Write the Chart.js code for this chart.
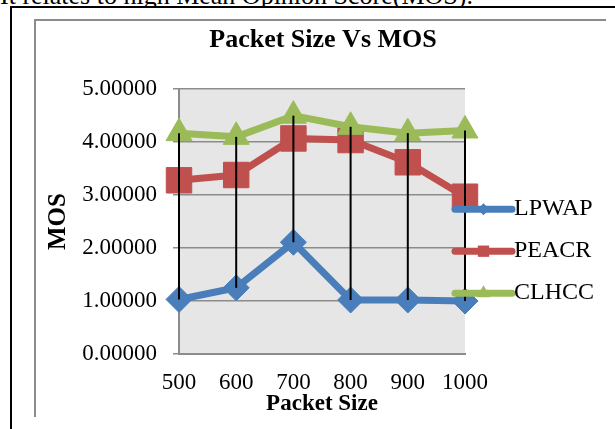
<!DOCTYPE html>
<html>
<head>
<meta charset="utf-8">
<script src="https://cdn.jsdelivr.net/npm/chart.js@4.4.0/dist/chart.umd.min.js"></script>
<style>
  body { margin: 0; background: #fff; width: 615px; height: 429px; overflow: hidden; position: relative; font-family: 'Liberation Serif', serif; }
  #intro { position: absolute; left: 0; top: 0; width: 615px; height: 6px; overflow: hidden; }
  #intro span { position: absolute; left: 0; top: -17px; font-size: 26px; line-height: 26px; white-space: nowrap; color: #000; }
  .rule { position: absolute; }
  #cell-top { left: 10px; top: 6px; width: 605px; height: 2px; background: #000; }
  #cell-left { left: 10px; top: 6px; width: 2px; height: 423px; background: #000; }
  #frame-top { left: 34px; top: 19px; width: 572px; height: 2px; background: #8c8c8c; }
  #frame-left { left: 34px; top: 19px; width: 2px; height: 398px; background: #8c8c8c; }
  #wrap { position: absolute; left: 40px; top: 20px; width: 566px; height: 409px; }
</style>
</head>
<body>
<div id="intro"><span>It relates to high Mean Opinion Score(MOS).</span></div>
<div class="rule" id="cell-top"></div>
<div class="rule" id="cell-left"></div>
<div class="rule" id="frame-top"></div>
<div class="rule" id="frame-left"></div>
<div id="wrap"><canvas id="mos-chart" width="566" height="409"></canvas></div>

<script>
const packetSizes = ['500', '600', '700', '800', '900', '1000'];
const lpwap = [1.03, 1.25, 2.11, 1.02, 1.02, 1.00];
const peacr = [3.28, 3.38, 4.07, 4.04, 3.62, 2.97];
const clhcc = [4.17, 4.10, 4.50, 4.29, 4.17, 4.22];

const serif = 'Liberation Serif';
const gridGray = '#8c8c8c';

// grey plot area like the Excel chart
const plotBackground = {
    id: 'plotBackground',
    beforeDraw(chart) {
        const { ctx, chartArea: a } = chart;
        ctx.save();
        ctx.fillStyle = '#e6e6e6';
        ctx.fillRect(a.left, a.top, a.right - a.left, a.bottom - a.top);
        ctx.restore();
    }
};

// high-low lines between the top and bottom series at each packet size
const highLowLines = {
    id: 'highLowLines',
    afterDatasetsDraw(chart) {
        const { ctx, scales } = chart;
        ctx.save();
        ctx.strokeStyle = '#000';
        ctx.lineWidth = 2;
        packetSizes.forEach((label, i) => {
            const vals = chart.data.datasets.map(ds => ds.data[i]);
            const x = scales.x.getPixelForValue(i);
            ctx.beginPath();
            ctx.moveTo(x, scales.y.getPixelForValue(Math.max(...vals)));
            ctx.lineTo(x, scales.y.getPixelForValue(Math.min(...vals)));
            ctx.stroke();
        });
        ctx.restore();
    }
};

// legend with a line sample and marker, Excel style
const lineLegend = {
    id: 'lineLegend',
    afterDraw(chart) {
        const { ctx, chartArea: a } = chart;
        ctx.save();
        chart.data.datasets.forEach((ds, i) => {
            const y = a.top + 120 + i * 42;
            const x0 = a.right - 10;
            const x1 = a.right + 47;
            ctx.strokeStyle = ds.borderColor;
            ctx.lineWidth = 7;
            ctx.lineCap = 'round';
            ctx.beginPath();
            ctx.moveTo(x0, y);
            ctx.lineTo(x1, y);
            ctx.stroke();
            ctx.fillStyle = ds.borderColor;
            Chart.helpers.drawPoint(ctx, {
                pointStyle: ds.pointStyle,
                radius: ds.legendRadius,
                borderWidth: 0
            }, (x0 + x1) / 2, y);
            ctx.fillStyle = '#000';
            ctx.font = '24px ' + serif;
            ctx.textBaseline = 'middle';
            ctx.textAlign = 'left';
            ctx.fillText(ds.label, x1 + 2, y);
        });
        ctx.restore();
    }
};

function series(label, data, color, style, radius, legendRadius, order) {
    return {
        label: label,
        data: data,
        borderColor: color,
        backgroundColor: color,
        borderWidth: 7,
        borderJoinStyle: 'round',
        borderCapStyle: 'round',
        tension: 0,
        pointStyle: style,
        pointRadius: radius,
        pointHoverRadius: radius,
        pointBackgroundColor: color,
        pointBorderColor: color,
        pointBorderWidth: 1,
        legendRadius: legendRadius,
        order: order
    };
}

new Chart(document.getElementById('mos-chart'), {
    type: 'line',
    data: {
        labels: packetSizes,
        datasets: [
            series('LPWAP', lpwap, '#4a7ebb', 'rectRot', 13, 6, 2),
            series('PEACR', peacr, '#c0504d', 'rect', 18, 8, 1),
            series('CLHCC', clhcc, '#9bbb59', 'triangle', 15, 8, 0)
        ]
    },
    options: {
        responsive: false,
        animation: false,
        devicePixelRatio: 1,
        layout: { padding: 0 },
        plugins: {
            legend: { display: false },
            tooltip: { enabled: false },
            title: {
                display: true,
                text: 'Packet Size Vs MOS',
                color: '#000',
                font: { family: serif, size: 26, weight: 'bold' },
                padding: { top: 5, bottom: 33 }
            }
        },
        scales: {
            x: {
                offset: false,
                afterFit: s => { s.height = 75; },
                grid: { display: false, drawTicks: false },
                border: { display: true, color: gridGray, width: 2 },
                ticks: {
                    color: '#000',
                    padding: 15,
                    font: { family: serif, size: 23 }
                },
                title: {
                    display: true,
                    text: 'Packet Size',
                    color: '#000',
                    font: { family: serif, size: 23, weight: 'bold' },
                    padding: { top: 0, bottom: 11 }
                }
            },
            y: {
                min: 0,
                max: 5,
                afterFit: s => { s.width = 139; },
                grid: { color: gridGray, lineWidth: 1.5, tickLength: 6 },
                border: { display: true, color: gridGray, width: 2 },
                ticks: {
                    stepSize: 1,
                    color: '#000',
                    padding: 16,
                    font: { family: serif, size: 23 },
                    callback: v => v.toFixed(5)
                },
                title: {
                    display: true,
                    text: 'MOS',
                    color: '#000',
                    font: { family: serif, size: 25, weight: 'bold' },
                    padding: { top: 4, bottom: 0 }
                }
            },
            // empty right-hand box that keeps room for the legend
            legendSpace: {
                position: 'right',
                min: 0,
                max: 5,
                afterFit: s => { s.width = 141; },
                grid: { display: false, drawTicks: false },
                border: { display: false },
                ticks: { display: false }
            }
        }
    },
    plugins: [plotBackground, highLowLines, lineLegend]
});
</script>
</body>
</html>
